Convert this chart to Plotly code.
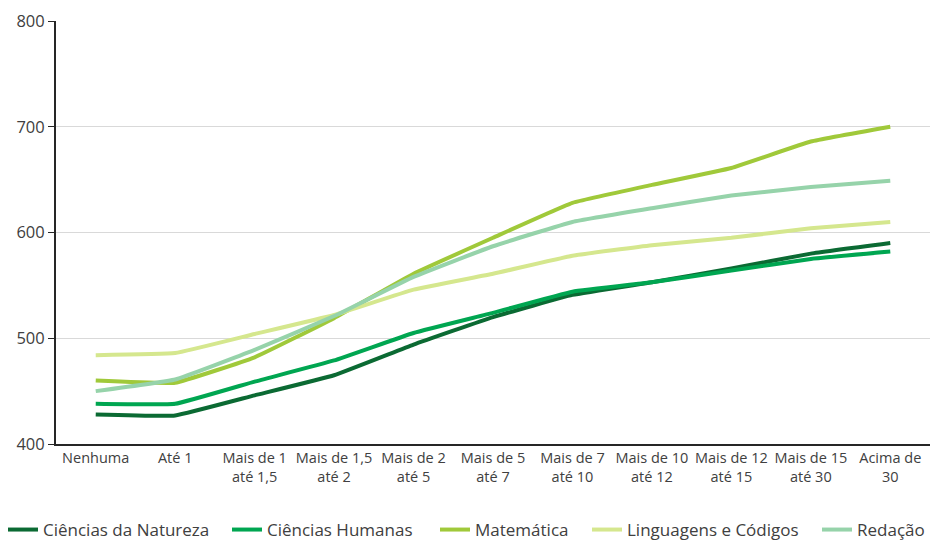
import plotly.graph_objects as go

categories = ["Nenhuma", "Até 1", "Mais de 1<br>até 1,5", "Mais de 1,5<br>até 2", "Mais de 2<br>até 5",
              "Mais de 5<br>até 7", "Mais de 7<br>até 10", "Mais de 10<br>até 12", "Mais de 12<br>até 15",
              "Mais de 15<br>até 30", "Acima de<br>30"]

natureza = [428, 427, 446, 465, 494, 520, 541, 553, 566, 580, 590]
humanas = [438, 438, 459, 479, 505, 524, 544, 553, 564, 575, 582]
matematica = [460, 458, 482, 519, 561, 595, 628, 645, 661, 686, 700]
linguagens = [484, 486, 504, 522, 546, 561, 578, 588, 595, 604, 610]
redacao = [450, 461, 489, 521, 558, 587, 610, 623, 635, 643, 649]

series = [
    ("Ciências da Natureza", natureza, "#0b6a33"),
    ("Ciências Humanas", humanas, "#00a651"),
    ("Matemática", matematica, "#a0c93a"),
    ("Linguagens e Códigos", linguagens, "#d5e78e"),
    ("Redação", redacao, "#96d3aa"),
]
legend_x = [3, 227, 435, 587, 817]

fig = go.Figure()
layout_legends = {}
for i, (name, vals, color) in enumerate(series):
    key = "legend" if i == 0 else f"legend{i + 1}"
    fig.add_trace(go.Scatter(x=categories, y=vals, name=name, mode="lines", legend=key,
                             line=dict(color=color, width=4, shape="spline", smoothing=0.3)))
    layout_legends[key] = dict(orientation="h", x=legend_x[i] / 934, xref="container", xanchor="left",
                               y=10 / 540, yref="container", yanchor="middle",
                               font=dict(size=17, color="#404040"), bgcolor="rgba(0,0,0,0)")

fig.update_layout(
    width=934, height=540,
    margin=dict(l=56, r=4, t=21, b=96, autoexpand=False),
    paper_bgcolor="white", plot_bgcolor="white",
    font=dict(family="Open Sans, sans-serif", color="#404040"),
    showlegend=True,
    **layout_legends,
)
fig.update_xaxes(type="category", range=[-0.5, 10.5], showgrid=False,
                 showline=True, linecolor="#262626", linewidth=2, ticks="",
                 tickfont=dict(size=14.5, color="#404040"))
fig.update_yaxes(range=[400, 800], dtick=100, showgrid=True, gridcolor="#d9d9d9", gridwidth=1,
                 showline=True, linecolor="#262626", linewidth=2, ticks="outside", ticklen=6,
                 tickcolor="#262626", zeroline=False,
                 tickfont=dict(size=16.5, color="#404040"))

fig.write_html("out.html")
